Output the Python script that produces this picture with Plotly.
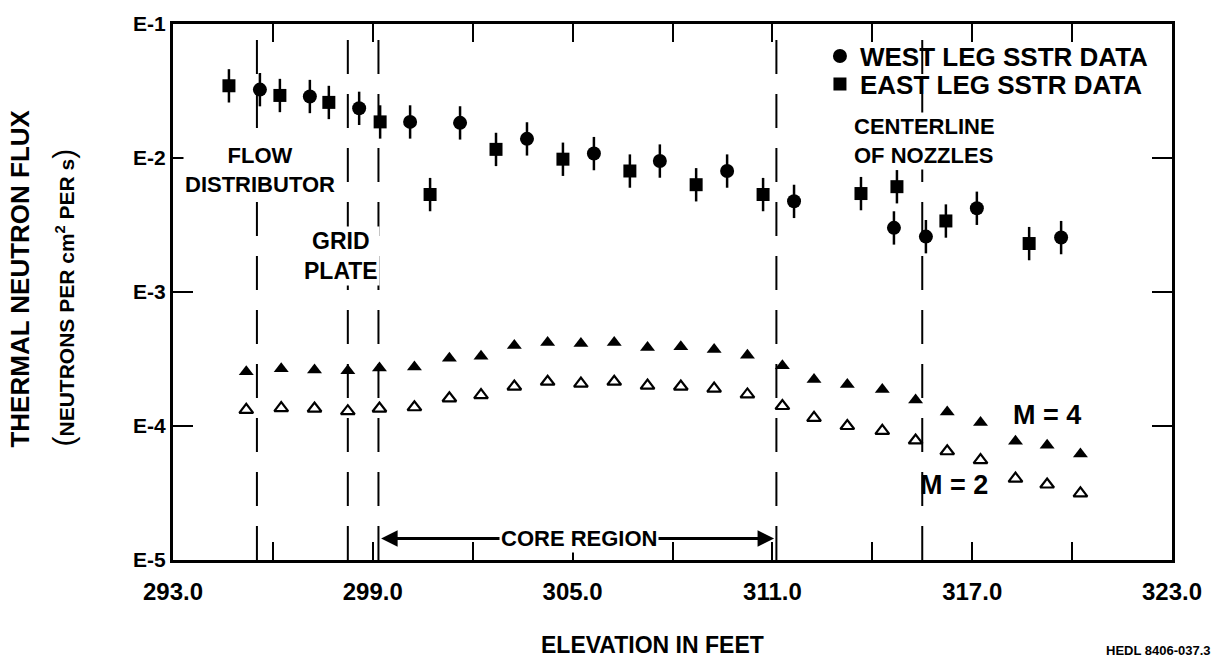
import plotly.graph_objects as go

# ---------------- data ----------------
west_x = [295.61, 297.11, 298.59, 300.12, 301.62, 303.63, 305.64, 307.62,
          309.64, 311.65, 314.65, 315.61, 317.14, 319.67]
west_y = [0.0324, 0.0288, 0.0235, 0.0186, 0.0183, 0.0139, 0.0108, 0.0095,
          0.0080, 0.00475, 0.00301, 0.00259, 0.00422, 0.00255]

east_x = [294.68, 296.21, 297.68, 299.22, 300.72, 302.70, 304.71, 306.72,
          308.71, 310.72, 313.66, 314.74, 316.21, 318.71]
east_y = [0.0346, 0.0293, 0.0260, 0.0186, 0.00534, 0.0116, 0.0098, 0.0080,
          0.00632, 0.00534, 0.00543, 0.00611, 0.00339, 0.00230]

calc_x = [295.2, 296.25, 297.25, 298.25, 299.2, 300.25, 301.3, 302.25, 303.25,
          304.25, 305.25, 306.25, 307.25, 308.25, 309.25, 310.25, 311.3, 312.25,
          313.25, 314.3, 315.3, 316.25, 317.25, 318.3, 319.25, 320.25]
m4_y = [2.54e-4, 2.67e-4, 2.62e-4, 2.58e-4, 2.71e-4, 2.76e-4, 3.20e-4, 3.32e-4,
        3.99e-4, 4.20e-4, 4.13e-4, 4.20e-4, 3.86e-4, 3.90e-4, 3.73e-4, 3.37e-4,
        2.81e-4, 2.22e-4, 2.04e-4, 1.87e-4, 1.56e-4, 1.27e-4, 1.06e-4, 7.68e-5,
        7.18e-5, 6.17e-5]
m2_y = [1.32e-4, 1.36e-4, 1.35e-4, 1.29e-4, 1.35e-4, 1.38e-4, 1.61e-4, 1.70e-4,
        1.97e-4, 2.14e-4, 2.07e-4, 2.14e-4, 2.00e-4, 1.97e-4, 1.90e-4, 1.72e-4,
        1.41e-4, 1.15e-4, 1.00e-4, 9.2e-5, 7.8e-5, 6.48e-5, 5.57e-5, 4.05e-5,
        3.66e-5, 3.14e-5]

# structural boundaries (elevation, ft)
boundary_x = [295.52, 298.25, 299.17, 311.12, 315.5]

x_ticks = [293, 299, 305, 311, 317, 323]
x_tick_text = ["293.0", "299.0", "305.0", "311.0", "317.0", "323.0"]
x_minor = [296, 302, 308, 314, 320]
y_ticks = [1e-5, 1e-4, 1e-3, 1e-2, 1e-1]
y_tick_text = ["E-5", "E-4", "E-3", "E-2", "E-1"]

# measurement uncertainty shown as +/- about 0.12 decade
ERR_UP = 0.33
ERR_DN = 0.25

BOLD = "Liberation Sans"
NARROW = "Liberation Sans Narrow, Liberation Sans, Arial"

fig = go.Figure()

fig.add_trace(go.Scatter(
    x=west_x, y=west_y, mode="markers", name="WEST LEG SSTR DATA",
    marker=dict(symbol="circle", size=14, color="black"),
    error_y=dict(type="data", symmetric=False,
                 array=[v * ERR_UP for v in west_y],
                 arrayminus=[v * ERR_DN for v in west_y],
                 thickness=2.5, width=0, color="black"),
    legend="legend",
))
fig.add_trace(go.Scatter(
    x=east_x, y=east_y, mode="markers", name="EAST LEG SSTR DATA",
    marker=dict(symbol="square", size=13, color="black"),
    error_y=dict(type="data", symmetric=False,
                 array=[v * ERR_UP for v in east_y],
                 arrayminus=[v * ERR_DN for v in east_y],
                 thickness=2.5, width=0, color="black"),
    legend="legend2",
))
fig.add_trace(go.Scatter(
    x=calc_x, y=m4_y, mode="markers", name="M = 4", showlegend=False,
    marker=dict(symbol="triangle-up", size=13, color="black"),
))
fig.add_trace(go.Scatter(
    x=calc_x, y=m2_y, mode="markers", name="M = 2", showlegend=False,
    marker=dict(symbol="triangle-up-open", size=12, color="black",
                line=dict(width=2.2, color="black")),
))

shapes = []
for bx in boundary_x:
    shapes.append(dict(type="line", xref="x", yref="paper", x0=bx, x1=bx,
                       y0=0, y1=1, layer="below",
                       line=dict(color="black", width=2, dash="34px,20px")))

def txt(text, x, y, size, xref="x", yref="paper", xanchor="center",
        align="center", bg=None, family=BOLD, textangle=0):
    d = dict(text=text, x=x, y=y, xref=xref, yref=yref, showarrow=False,
             xanchor=xanchor, yanchor="middle", align=align,
             textangle=textangle,
             font=dict(family=family, size=size, color="black", weight="bold"))
    if bg:
        d["bgcolor"] = bg
        d["borderpad"] = 1
    return d

annotations = [
    txt("FLOW<br>DISTRIBUTOR", 295.6, 0.728, 22, bg="white"),
    txt("GRID<br>PLATE", 298.05, 0.567, 23, bg="white"),
    txt("CENTERLINE<br>OF NOZZLES", 313.39, 0.782, 22, xanchor="left",
        align="left", bg="white"),
    txt("M = 4", 319.25, 0.2706, 27),
    txt("M = 2", 316.45, 0.139, 27),
    # core region arrows
    dict(text="", x=299.25, y=0.0402, xref="x", yref="paper", ax=304.0,
         axref="x", ay=0, showarrow=True, arrowhead=2, arrowsize=1.1,
         arrowwidth=3, arrowcolor="black"),
    dict(text="", x=311.05, y=0.0402, xref="x", yref="paper", ax=306.5,
         axref="x", ay=0, showarrow=True, arrowhead=2, arrowsize=1.1,
         arrowwidth=3, arrowcolor="black"),
    txt("CORE REGION", 305.2, 0.0402, 22, bg="white", family=NARROW),
    txt("ELEVATION IN FEET", 0.4795, -0.158, 23, xref="paper", family=NARROW),
    dict(text="HEDL 8406-037.3", x=1.041, y=-0.168, xref="paper", yref="paper",
         showarrow=False, xanchor="right", yanchor="middle",
         font=dict(family=NARROW, size=13, color="black", weight="bold")),
    txt("THERMAL NEUTRON FLUX", -0.1532, 0.525, 26, xref="paper",
        textangle=-90),
    txt("<span style='font-size:30px;font-weight:normal'>(</span>"
        "NEUTRONS PER cm<sup>2</sup> PER s"
        "<span style='font-size:30px;font-weight:normal'>)</span>",
        -0.110, 0.49, 21, xref="paper", textangle=-90),
]

legend_common = dict(x=0.6476, xanchor="left", yanchor="middle",
                     bgcolor="rgba(0,0,0,0)", borderwidth=0,
                     font=dict(family=BOLD, size=26, color="black",
                               weight="bold"))

fig.update_layout(
    width=1218, height=659,
    margin=dict(l=173, r=46, t=13, b=99),
    paper_bgcolor="white", plot_bgcolor="white",
    showlegend=True,
    legend=dict(y=0.94, **legend_common),
    legend2=dict(y=0.888, **legend_common),
    shapes=shapes,
    annotations=annotations,
    xaxis=dict(
        range=[293, 323], tickmode="array", tickvals=x_ticks,
        ticktext=x_tick_text, ticks="inside", ticklen=18, tickwidth=2,
        tickcolor="black", showline=True, linewidth=3, linecolor="black",
        mirror="allticks", showgrid=False, zeroline=False,
        minor=dict(tickmode="array", tickvals=x_minor, ticks="inside",
                   ticklen=18, tickwidth=2, tickcolor="black", showgrid=False),
        tickfont=dict(family=NARROW, size=24, color="black", weight="bold"),
        ticklabelstandoff=8,
    ),
    yaxis=dict(
        type="log", range=[-5, -1], tickmode="array", tickvals=y_ticks,
        ticktext=y_tick_text, ticks="inside", ticklen=20, tickwidth=2,
        tickcolor="black", showline=True, linewidth=3, linecolor="black",
        mirror="allticks", showgrid=False, zeroline=False,
        tickfont=dict(family=BOLD, size=21, color="black", weight="bold"),
    ),
)

fig.write_html("out.html")
